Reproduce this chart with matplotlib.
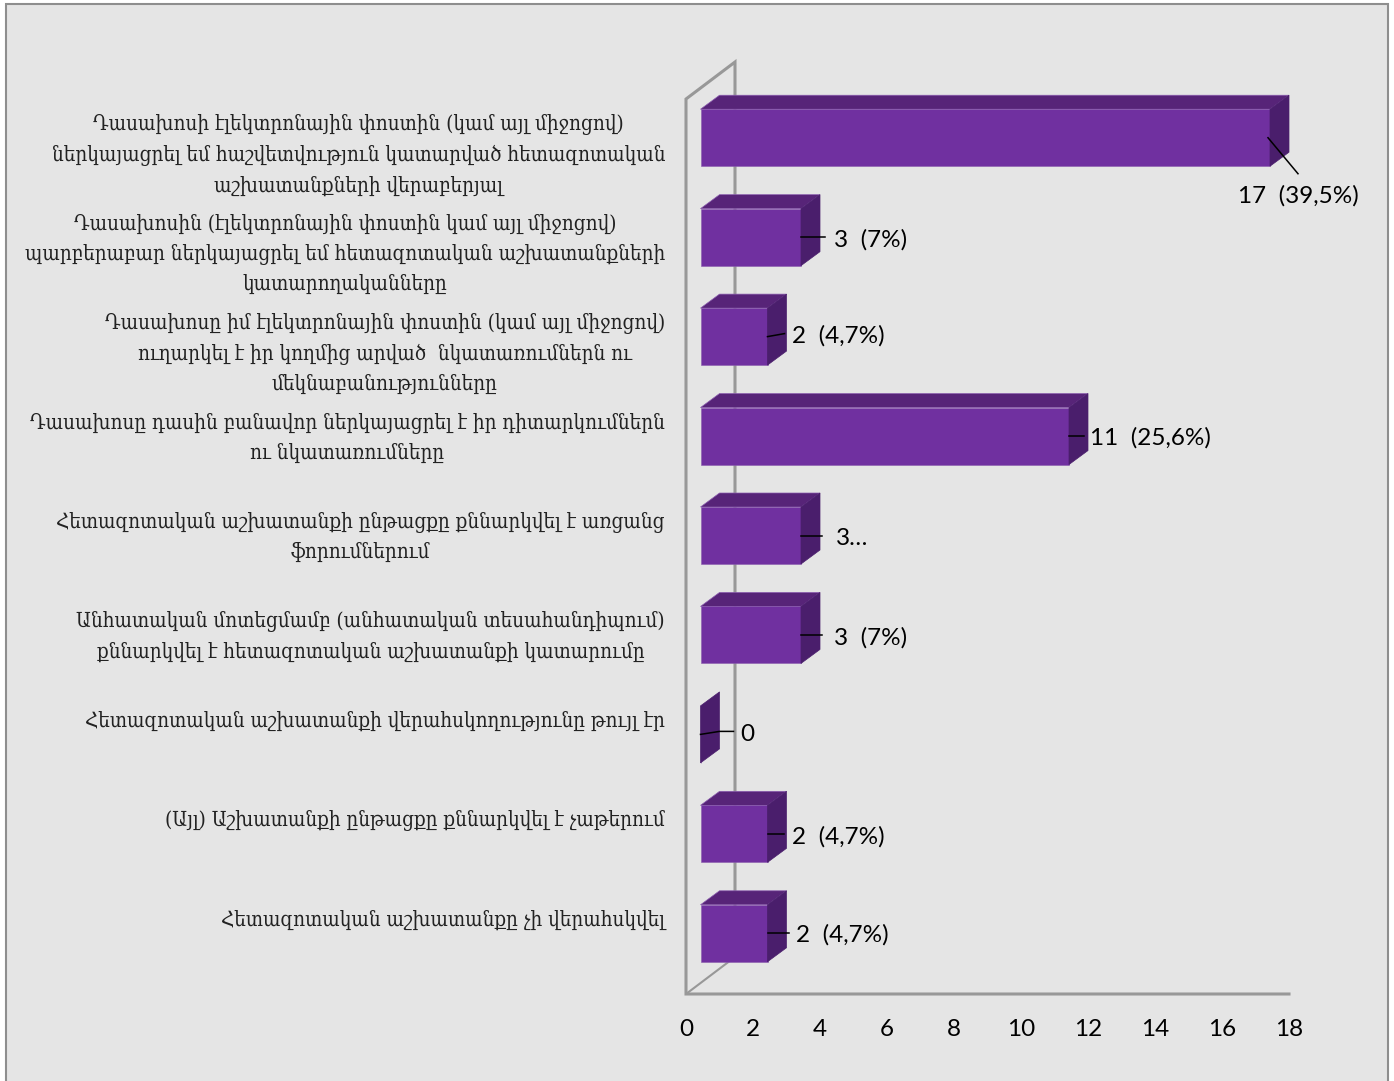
import matplotlib
matplotlib.use("Agg")
import matplotlib.pyplot as plt
from matplotlib.patches import Polygon, Rectangle

# datos ------------------------------------------------
categorias = [
    "Դասախոսի էլեկտրոնային փոստին (կամ այլ միջոցով)\nներկայացրել եմ հաշվետվություն կատարված հետազոտական\nաշխատանքների վերաբերյալ",
    "Դասախոսին (էլեկտրոնային փոստին կամ այլ միջոցով)\nպարբերաբար ներկայացրել եմ հետազոտական աշխատանքների\nկատարողականները",
    "Դասախոսը իմ էլեկտրոնային փոստին (կամ այլ միջոցով)\nուղարկել է իր կողմից արված  նկատառումներն ու\nմեկնաբանությունները",
    "Դասախոսը դասին բանավոր ներկայացրել է իր դիտարկումներն\nու նկատառումները",
    "Հետազոտական աշխատանքի ընթացքը քննարկվել է առցանց\nֆորումներում",
    "Անհատական մոտեցմամբ (անհատական տեսահանդիպում)\nքննարկվել է հետազոտական աշխատանքի կատարումը",
    "Հետազոտական աշխատանքի վերահսկողությունը թույլ էր",
    "(Այլ) Աշխատանքի ընթացքը քննարկվել է չաթերում",
    "Հետազոտական աշխատանքը չի վերահսկվել",
]
valores = [17, 3, 2, 11, 3, 3, 0, 2, 2]
etiquetas = ["17  (39,5%)", "3  (7%)", "2  (4,7%)", "11  (25,6%)", "3…",
             "3  (7%)", "0", "2  (4,7%)", "2  (4,7%)"]
ticks = list(range(0, 20, 2))

# estilos ----------------------------------------------
W, H = 1394, 1081
FONDO = "#E5E5E5"
GRIS = "#989898"
FRENTE = "#7030A0"
ARRIBA = "#572478"
LADO = "#4A1E6C"
BORDE = "#8A5CAE"
SERIF = ["DejaVu Serif", "DejaVu Sans"]
SANS = "Lato"

fig = plt.figure(figsize=(W / 100, H / 100), dpi=100, facecolor="white")
fig.add_artist(Rectangle((6 / W, -0.01), 1382 / W, 1.01 - 4 / H, transform=fig.transFigure,
                         facecolor=FONDO, edgecolor="#8E8E8E", linewidth=1.5, zorder=-1))

# ejes: 0..18 va de x=686 a x=1289, el piso esta en y=994 y el tope en y=99
ax = fig.add_axes([686 / W, 1 - 994 / H, 603 / W, 895 / H])
ax.patch.set_visible(False)
ax.set_xlim(0, 18)
ax.set_ylim(8.5, -0.5)
for s in ax.spines.values():
    s.set_visible(False)

ux = 18 / 603  # unidades de x por pixel
uy = 9 / 895   # unidades de y por pixel

# pared y piso en falsa perspectiva
pared = dict(color=GRIS, lw=2.2, clip_on=False, zorder=1, solid_joinstyle="miter")
ax.plot([49 * ux, 49 * ux, 0, 0, 18],
        [8.5 - 34 * uy, -0.5 - 37 * uy, -0.5, 8.5, 8.5], **pared)
ax.plot([0, 49 * ux], [8.5, 8.5 - 37 * uy], color=GRIS, lw=1.5, zorder=1)

# barras con caras superior y lateral
dx0, dy0 = 14.5 * ux, -11 * uy  # plano frontal de las barras
px, py = 19 * ux, -14 * uy      # profundidad
alto = 57 * uy
ys = [i + dy0 for i in range(len(valores))]

ax.barh(ys, valores, height=alto, left=dx0, color=FRENTE, edgecolor=BORDE, linewidth=0.4, zorder=3)
for y, v in zip(ys, valores):
    x0, x1 = dx0, dx0 + v
    t, b = y - alto / 2, y + alto / 2
    if v > 0:
        ax.add_patch(Polygon([(x0, t), (x0 + px, t + py), (x1 + px, t + py), (x1, t)], clip_on=False,
                             facecolor=ARRIBA, edgecolor=BORDE, linewidth=0.5, zorder=2))
    ax.add_patch(Polygon([(x1, t), (x1 + px, t + py), (x1 + px, b + py), (x1, b)], clip_on=False,
                         facecolor=LADO, edgecolor=LADO, linewidth=0.5, zorder=4))

# etiquetas de datos, desplazamiento en pixeles desde el extremo de la barra
desp = [(-32, 58), (33, 3), (25, -1), (21, 2), (35, 3), (33, 3), (40, 0), (24, 3), (29, 2)]
lineas = [
    [(-2, 0), (28, 36)],
    [(0, 0), (24, 0)],
    [(0, 0), (17, -3)],
    [(0, 0), (15, 0)],
    [(0, 0), (21, 0)],
    [(0, 0), (21, 0)],
    [(0, 0), (19, -3), (33, -3)],
    [(0, 0), (16, 0)],
    [(0, 0), (21, 0)],
]
for y, v, txt, d, puntos in zip(ys, valores, etiquetas, desp, lineas):
    xe = dx0 + v
    ax.plot([xe + p[0] * ux for p in puntos], [y + p[1] * uy for p in puntos],
            color="black", lw=1.1, zorder=6, clip_on=False)
    ax.text(xe + d[0] * ux, y + d[1] * uy, txt, ha="left", va="center", fontsize=17.5,
            family=SANS, color="black", zorder=7, clip_on=False)

# categorias: la primera linea de cada una queda a la misma altura respecto a su barra
for y, txt in zip(ys, categorias):
    ax.text(-21 * ux, y - 23.5 * uy, txt, ha="right", va="top", multialignment="center",
            fontsize=14.8, family=SERIF, stretch="condensed", color="#222222", linespacing=1.58, clip_on=False)

ax.set_xticks(ticks)
ax.set_xticklabels([str(t) for t in ticks], fontsize=17.5, family=SANS, color="black")
ax.tick_params(axis="x", length=0, pad=18)
ax.set_yticks([])

fig.savefig("out.png", dpi=100)
